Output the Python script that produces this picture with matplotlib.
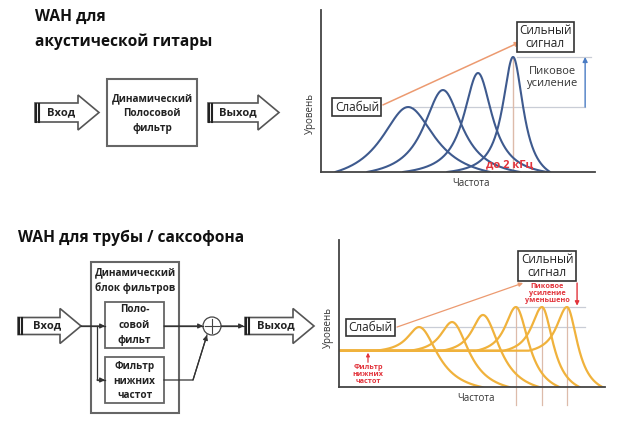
import numpy as np
import matplotlib.pyplot as plt
from matplotlib.patches import Polygon, Rectangle, Circle

plt.rcParams['font.family'] = ['Open Sans', 'DejaVu Sans']

# upper chart: acoustic guitar wah (4 resonance peaks)
top_centers = [31.8, 44.5, 57.3, 70.1]
top_peaks = [40.1, 50.6, 61.1, 71.0]
top_width = [12.0, 8.5, 6.3, 4.6]
top_base_left = [26.6, 27.7, 27.4, 24.1]
top_base_right = [29.9, 28.1, 25.2, 13.5]

# lower chart: trumpet / sax wah (low-pass floor + 6 peaks)
bot_floor = 24.8
bot_centers = [30.1, 42.5, 54.1, 66.5, 76.3, 85.7]
bot_peaks = [40.9, 44.3, 49.1, 54.5, 54.5, 54.5]
bot_rise = [16.5, 16.0, 15.5, 15.0, 14.5, 14.5]
bot_fall = [24.0, 21.8, 21.5, 16.6, 14.3, 13.5]

BLUE = '#3E5A8E'
GOLD = '#F0B23C'
RED = '#E2343C'
ORANGE = '#EC9A70'
GRID = '#C9CDD6'
TAN = '#DDBBAA'
BOXFONT = 7.2


def bump(x, c, w, D):
    # clipped lorentzian, reaches zero at distance D
    L = 1 / (1 + ((x - c) / w) ** 2)
    LD = 1 / (1 + (D / w) ** 2)
    return np.clip((L - LD) / (1 - LD), 0, None)


fig = plt.figure(figsize=(6.25, 4.21), dpi=100)

# ---------- block diagrams (pixel coordinates) ----------
dg = fig.add_axes([0, 0, 1, 1])
dg.set_xlim(0, 625)
dg.set_ylim(421, 0)
dg.axis('off')


def block_arrow(x0, xh, xt, yc, bh, hh, label, tx):
    pts = [(x0, yc - bh), (xh, yc - bh), (xh, yc - hh), (xt, yc), (xh, yc + hh),
           (xh, yc + bh), (x0, yc + bh)]
    dg.add_patch(Polygon(pts, closed=True, fc='white', ec='#555555', lw=1.2))
    dg.plot([x0 + 0.8, x0 + 0.8], [yc - bh + 0.5, yc + bh - 0.5], color='#222222', lw=1.5)
    dg.plot([x0 + 4.0, x0 + 4.0], [yc - bh + 0.5, yc + bh - 0.5], color='#222222', lw=1.5)
    dg.text(tx, yc, label, ha='center', va='center', fontsize=8, fontweight='bold', color='#222222')


def arrow_line(xs, ys):
    dg.plot(xs, ys, color='#333333', lw=0.9)
    dg.annotate('', xy=(xs[-1], ys[-1]), xytext=(xs[-2], ys[-2]),
                arrowprops=dict(arrowstyle='-|>', color='#333333', lw=0.9, mutation_scale=7,
                                shrinkA=0, shrinkB=0))


# top diagram
dg.text(35, 17, 'WAH для', fontsize=11.2, fontweight='bold', va='center', color='#111111')
dg.text(35, 42, 'акустической гитары', fontsize=11.2, fontweight='bold', va='center', color='#111111')
block_arrow(35, 78, 99, 112.5, 9.5, 17.5, 'Вход', 61)
dg.add_patch(Rectangle((107, 79), 90, 67, fc='white', ec='#666666', lw=1.5))
for yy, s in zip([99, 113, 128], ['Динамический', 'Полосовой', 'фильтр']):
    dg.text(152, yy, s, ha='center', va='center', fontsize=BOXFONT, fontweight='bold', color='#222222')
block_arrow(208, 258, 279, 112.5, 9.5, 17.5, 'Выход', 238)

# bottom diagram
dg.text(18, 238, 'WAH для трубы / саксофона', fontsize=11.2, fontweight='bold', va='center', color='#111111')
block_arrow(18, 60, 81, 326, 8.5, 17.5, 'Вход', 47)
dg.add_patch(Rectangle((91, 262), 88, 151, fc='white', ec='#666666', lw=1.5))
dg.text(135, 273, 'Динамический', ha='center', va='center', fontsize=BOXFONT, fontweight='bold', color='#222222')
dg.text(135, 288, 'блок фильтров', ha='center', va='center', fontsize=BOXFONT, fontweight='bold', color='#222222')
dg.add_patch(Rectangle((105, 302), 59, 46, fc='white', ec='#666666', lw=1.3))
dg.add_patch(Rectangle((105, 357), 59, 46, fc='white', ec='#666666', lw=1.3))
for yy, s in zip([310, 326, 340], ['Поло-', 'совой', 'фильт']):
    dg.text(134.5, yy, s, ha='center', va='center', fontsize=BOXFONT, fontweight='bold', color='#222222')
for yy, s in zip([367, 381, 395], ['Фильтр', 'нижних', 'частот']):
    dg.text(134.5, yy, s, ha='center', va='center', fontsize=BOXFONT, fontweight='bold', color='#222222')
arrow_line([81, 105], [326, 326])
arrow_line([97, 97, 105], [326, 380, 380])
arrow_line([164, 203], [326, 326])
arrow_line([164, 193, 207], [380, 380, 335])
dg.add_patch(Circle((212, 326), 9, fc='white', ec='#444444', lw=0.9))
dg.plot([205, 219], [326, 326], color='#444444', lw=0.8)
dg.plot([212, 212], [319, 333], color='#444444', lw=0.8)
arrow_line([221, 244], [326, 326])
block_arrow(245, 293, 314, 326, 8.5, 17.5, 'Выход', 276)

# ---------- upper chart ----------
ax1 = fig.add_axes([321 / 625, 1 - 172 / 421, 274 / 625, 162 / 421])
ax1.set_xlim(0, 100)
ax1.set_ylim(0, 100)
ax1.patch.set_alpha(0)
for s in ['top', 'right']:
    ax1.spines[s].set_visible(False)
for s in ['left', 'bottom']:
    ax1.spines[s].set_color('#444444')
    ax1.spines[s].set_linewidth(1.3)
ax1.set_xticks([])
ax1.set_yticks([])

ax1.plot([33.5, 96.5], [top_peaks[0]] * 2, color=GRID, lw=0.9)
ax1.plot([71.5, 98.5], [top_peaks[-1]] * 2, color=GRID, lw=0.9)
ax1.plot([top_centers[-1]] * 2, [0, top_peaks[-1]], color=TAN, lw=1.0)
for c, h, w, dl, dr in zip(top_centers, top_peaks, top_width, top_base_left, top_base_right):
    xl = np.linspace(c - dl, c, 150)
    xr = np.linspace(c, c + dr, 150)
    ax1.plot(np.r_[xl, xr], np.r_[h * bump(xl, c, w, dl), h * bump(xr, c, w, dr)],
             color=BLUE, lw=1.5, solid_capstyle='round')
ax1.annotate('', xy=(96.4, top_peaks[-1]), xytext=(96.4, top_peaks[0]),
             arrowprops=dict(arrowstyle='-|>', color='#4A7CC4', lw=1.0, mutation_scale=7,
                             shrinkA=0, shrinkB=0))
ax1.text(84.5, 58.5, 'Пиковое\nусиление', ha='center', va='center', fontsize=8,
         color='#333333', linespacing=1.1)
ax1.annotate('', xy=(72.6, 80.2), xytext=(22.6, 41.4),
             arrowprops=dict(arrowstyle='-|>', color=ORANGE, lw=1.1, mutation_scale=7,
                             shrinkA=0, shrinkB=0))
ax1.text(13.1, 40.1, 'Слабый', ha='center', va='center', fontsize=8.5, color='#222222',
         bbox=dict(boxstyle='square,pad=0.2', fc='white', ec='#333333', lw=1.2))
ax1.text(81.8, 83.3, 'Сильный\nсигнал', ha='center', va='center', fontsize=8.5, color='#222222',
         linespacing=1.0, bbox=dict(boxstyle='square,pad=0.2', fc='white', ec='#333333', lw=1.2))
ax1.text(69.0, 4.5, 'до 2 кГц', ha='center', va='center', fontsize=8, fontweight='bold', color=RED)
ax1.text(54.7, -7, 'Частота', ha='center', va='center', fontsize=7, color='#333333', clip_on=False)
ax1.text(-4, 36.4, 'Уровень', ha='center', va='center', fontsize=7, color='#333333',
         rotation=90, clip_on=False)

# ---------- lower chart ----------
ax2 = fig.add_axes([339 / 625, 1 - 387.3 / 421, 266 / 625, 147.3 / 421])
ax2.set_xlim(0, 100)
ax2.set_ylim(0, 100)
ax2.patch.set_alpha(0)
for s in ['top', 'right']:
    ax2.spines[s].set_visible(False)
for s in ['left', 'bottom']:
    ax2.spines[s].set_color('#444444')
    ax2.spines[s].set_linewidth(1.3)
ax2.set_xticks([])
ax2.set_yticks([])

ax2.plot([31.2, 92.5], [bot_peaks[0]] * 2, color=GRID, lw=0.9)
ax2.plot([66.9, 92.5], [bot_peaks[-1]] * 2, color=GRID, lw=0.9)
for c in bot_centers[3:]:
    ax2.plot([c, c], [-12, bot_peaks[-1]], color=TAN, lw=0.9, clip_on=False)
for c, h, dl, dr in zip(bot_centers, bot_peaks, bot_rise, bot_fall):
    xl = np.linspace(0, c, 300)
    xr = np.linspace(c, c + dr, 150)
    yl = bot_floor + (h - bot_floor) * bump(xl, c, 0.33 * dl, dl)
    yr = h * bump(xr, c, 0.36 * dr, dr)
    ax2.plot(np.r_[xl, xr], np.r_[yl, yr], color=GOLD, lw=1.6, solid_capstyle='round')
ax2.annotate('', xy=(89.5, 55.4), xytext=(89.5, 70.8),
             arrowprops=dict(arrowstyle='-|>', color=RED, lw=1.0, mutation_scale=6,
                             shrinkA=0, shrinkB=0))
ax2.text(78.2, 64.0, 'Пиковое\nусиление\nуменьшено', ha='center', va='center', fontsize=5.2,
         fontweight='bold', color=RED, linespacing=1.0)
ax2.annotate('', xy=(69.2, 70.8), xytext=(21.8, 40.9),
             arrowprops=dict(arrowstyle='-|>', color=ORANGE, lw=0.9, mutation_scale=6,
                             shrinkA=0, shrinkB=0))
ax2.text(11.7, 40.6, 'Слабый', ha='center', va='center', fontsize=8.5, color='#222222',
         bbox=dict(boxstyle='square,pad=0.2', fc='white', ec='#333333', lw=1.2))
ax2.text(78.2, 82.4, 'Сильный\nсигнал', ha='center', va='center', fontsize=8.5, color='#222222',
         linespacing=1.0, bbox=dict(boxstyle='square,pad=0.2', fc='white', ec='#333333', lw=1.2))
ax2.annotate('', xy=(10.9, 23.5), xytext=(10.9, 17.0),
             arrowprops=dict(arrowstyle='-|>', color=RED, lw=0.9, mutation_scale=5,
                             shrinkA=0, shrinkB=0))
ax2.text(10.9, 8.4, 'Фильтр\nнижних\nчастот', ha='center', va='center', fontsize=5.2,
         fontweight='bold', color=RED, linespacing=1.0)
ax2.text(51.5, -7.3, 'Частота', ha='center', va='center', fontsize=7, color='#333333', clip_on=False)
ax2.text(-4.1, 40.9, 'Уровень', ha='center', va='center', fontsize=7, color='#333333',
         rotation=90, clip_on=False)

fig.savefig('out.png', dpi=100)
